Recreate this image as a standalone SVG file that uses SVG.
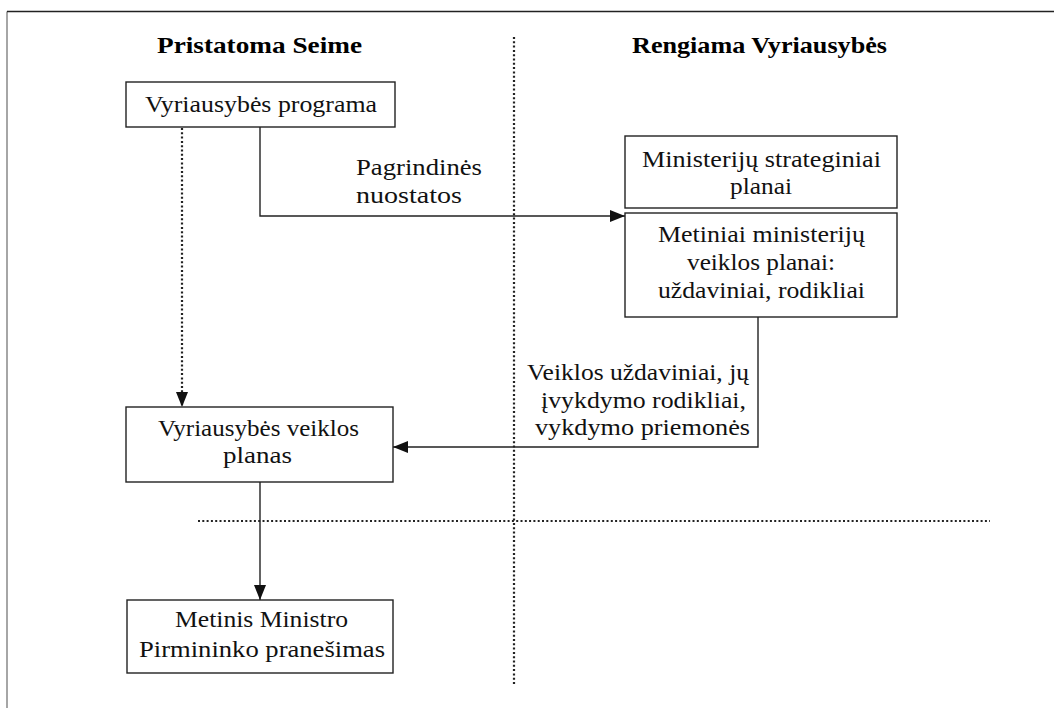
<svg xmlns="http://www.w3.org/2000/svg" width="1054" height="708" viewBox="0 0 1054 708">
<style>
.t{font-family:"Liberation Serif","Times New Roman",serif;font-size:23px;fill:#111}
.h{font-family:"Liberation Serif","Times New Roman",serif;font-size:23px;font-weight:bold;fill:#000}
.c{text-anchor:middle}
.box{fill:#fff;stroke:#222;stroke-width:1.4}
.ln{fill:none;stroke:#222;stroke-width:1.4}
.dot{fill:none;stroke:#222;stroke-width:2.2;stroke-dasharray:2 2.3}
</style>
<defs>
<marker id="ah" markerUnits="userSpaceOnUse" markerWidth="15" markerHeight="12" refX="15" refY="6" orient="auto">
<path d="M0,0 L15,6 L0,12 z" fill="#111"/>
</marker>
</defs>
<rect x="0" y="0" width="1054" height="708" fill="#fff"/>
<g id="frame">
<path d="M7,708 V11.5" fill="none" stroke="#888" stroke-width="1.5"/>
<path d="M7,11.5 H1054" fill="none" stroke="#222" stroke-width="1.4"/>
</g>
<g id="dividers">
<path class="dot" d="M514,37 V686"/>
<path class="dot" d="M198,521 H990"/>
</g>
<g id="headers">
<text class="h c" x="259.5" y="53" textLength="205" lengthAdjust="spacingAndGlyphs">Pristatoma Seime</text>
<text class="h c" x="759.5" y="53" textLength="255" lengthAdjust="spacingAndGlyphs">Rengiama Vyriausybės</text>
</g>
<g id="connectors">
<path class="dot" d="M182,128 V407" marker-end="url(#ah)"/>
<path class="ln" d="M260,127 V216 H625" marker-end="url(#ah)"/>
<path class="ln" d="M758,317 V447 H393" marker-end="url(#ah)"/>
<path class="ln" d="M260,482 V600" marker-end="url(#ah)"/>
<text class="t" x="356" y="175" textLength="126" lengthAdjust="spacingAndGlyphs">Pagrindinės</text>
<text class="t" x="356" y="203" textLength="106" lengthAdjust="spacingAndGlyphs">nuostatos</text>
<text class="t" x="749" y="380" text-anchor="end" textLength="222" lengthAdjust="spacingAndGlyphs">Veiklos uždaviniai, jų</text>
<text class="t" x="746" y="408" text-anchor="end" textLength="205" lengthAdjust="spacingAndGlyphs">įvykdymo rodikliai,</text>
<text class="t" x="750" y="435" text-anchor="end" textLength="215" lengthAdjust="spacingAndGlyphs">vykdymo priemonės</text>
</g>
<g id="node-programa">
<rect class="box" x="126" y="82" width="269" height="45"/>
<text class="t c" x="261" y="112" textLength="232" lengthAdjust="spacingAndGlyphs">Vyriausybės programa</text>
</g>
<g id="node-strateginiai">
<rect class="box" x="625" y="136" width="272" height="72"/>
<text class="t c" x="761.5" y="167" textLength="239" lengthAdjust="spacingAndGlyphs">Ministerijų strateginiai</text>
<text class="t c" x="761" y="194" textLength="62" lengthAdjust="spacingAndGlyphs">planai</text>
</g>
<g id="node-metiniai">
<rect class="box" x="625" y="213" width="272" height="104"/>
<text class="t c" x="761.5" y="242" textLength="207" lengthAdjust="spacingAndGlyphs">Metiniai ministerijų</text>
<text class="t c" x="761" y="270" textLength="148" lengthAdjust="spacingAndGlyphs">veiklos planai:</text>
<text class="t c" x="761.5" y="298" textLength="207" lengthAdjust="spacingAndGlyphs">uždaviniai, rodikliai</text>
</g>
<g id="node-veiklos-planas">
<rect class="box" x="126" y="407" width="267" height="75"/>
<text class="t c" x="258.5" y="436" textLength="201" lengthAdjust="spacingAndGlyphs">Vyriausybės veiklos</text>
<text class="t c" x="257.5" y="463" textLength="69" lengthAdjust="spacingAndGlyphs">planas</text>
</g>
<g id="node-pranesimas">
<rect class="box" x="127" y="600" width="266" height="73"/>
<text class="t c" x="261.5" y="627" textLength="173" lengthAdjust="spacingAndGlyphs">Metinis Ministro</text>
<text class="t c" x="262" y="657" textLength="246" lengthAdjust="spacingAndGlyphs">Pirmininko pranešimas</text>
</g>
</svg>
